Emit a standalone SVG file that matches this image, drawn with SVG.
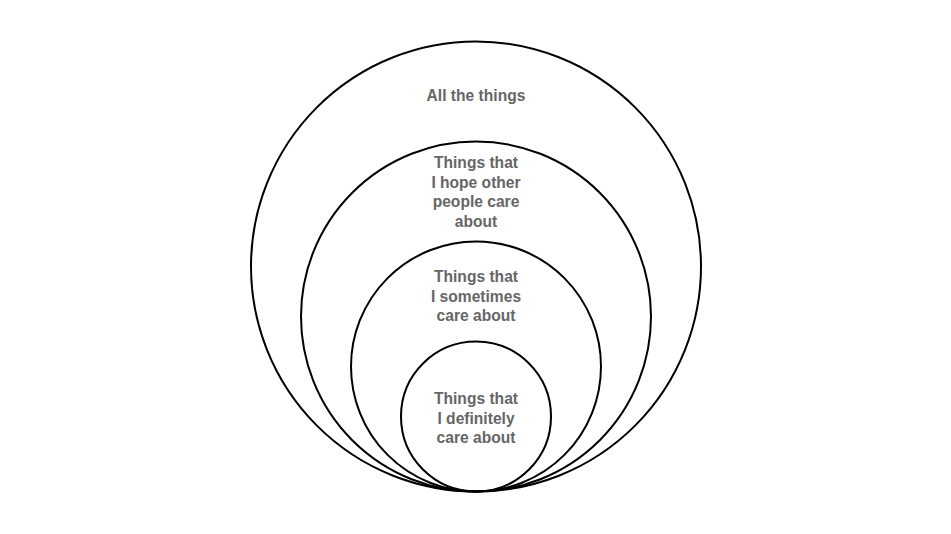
<svg xmlns="http://www.w3.org/2000/svg" width="951" height="534" viewBox="0 0 951 534">
<style>
.c{fill:none;stroke:#000;stroke-width:2}
.t{font-family:"Liberation Sans",Arial,Helvetica,sans-serif;font-weight:bold;font-size:15.6px;fill:#666;text-anchor:middle}
</style>
<rect width="951" height="534" fill="#fff"/>
<g id="all">
<circle class="c" cx="476" cy="266.5" r="225"/>
<text class="t" x="476" y="101">All the things</text>
</g>
<g id="hope">
<circle class="c" cx="476" cy="316.5" r="175"/>
<text class="t" x="476" y="168">Things that</text>
<text class="t" x="476" y="187.5">I hope other</text>
<text class="t" x="476" y="207">people care</text>
<text class="t" x="476" y="226.5">about</text>
</g>
<g id="sometimes">
<circle class="c" cx="476" cy="366.5" r="125"/>
<text class="t" x="476" y="282">Things that</text>
<text class="t" x="476" y="301.5">I sometimes</text>
<text class="t" x="476" y="321">care about</text>
</g>
<g id="definitely">
<circle class="c" cx="476" cy="416.5" r="75"/>
<text class="t" x="476" y="404">Things that</text>
<text class="t" x="476" y="423.5">I definitely</text>
<text class="t" x="476" y="443">care about</text>
</g>
<g id="connectors"></g>
</svg>
